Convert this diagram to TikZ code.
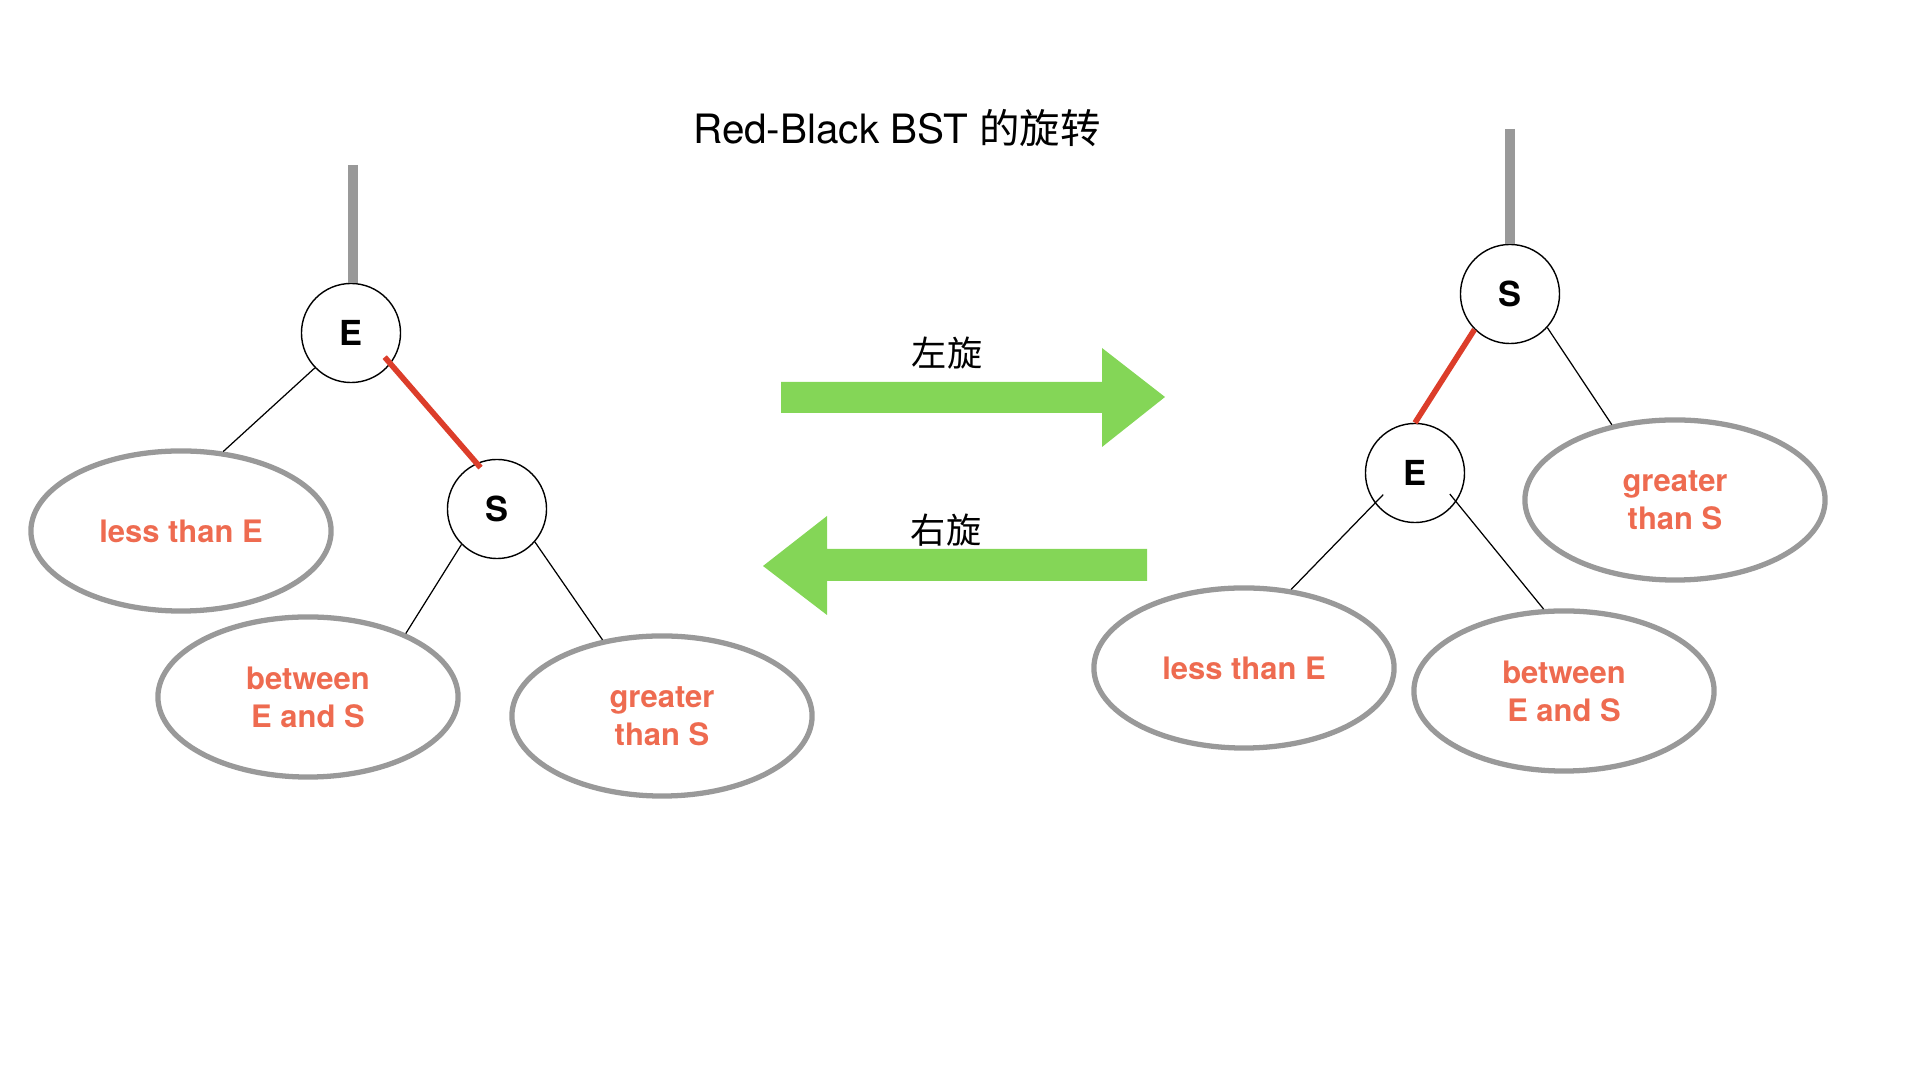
\documentclass[tikz,border=0pt]{standalone}
\usepackage{fontspec}
\setmainfont{TeX Gyre Heros}
\newfontfamily\cjkfont{Noto Sans CJK SC}
\usetikzlibrary{positioning, shapes.geometric, calc}

\definecolor{linkgray}{HTML}{999999}
\definecolor{rbred}{HTML}{DC3D2A}
\definecolor{subtext}{HTML}{EE6B50}
\definecolor{turngreen}{HTML}{84D657}

\begin{document}
\begin{tikzpicture}[
    x=0.01cm, y=-0.01cm,
    % Styles
    key/.style={ % Tree node
        circle,
        draw,
        line width=0.4pt,
        minimum size=0.99cm,
        inner sep=0pt,
        font=\fontsize{9.8}{11}\selectfont\bfseries
    },
    subtree/.style={ % Subtree oval
        ellipse,
        draw=linkgray,
        line width=1.5pt,
        minimum width=3.0cm,
        minimum height=1.6cm,
        inner sep=0pt,
        align=center,
        text=subtext,
        font=\fontsize{8.8}{10.8}\selectfont\bfseries
    },
    link/.style={
        line width=0.35pt
    },
    rededge/.style={ % Red link
        draw=rbred,
        line width=1.6pt
    },
    parent/.style={ % Link to the parent
        draw=linkgray,
        line width=2.8pt
    },
    turn/.style={
        fill=turngreen
    },
    turnlabel/.style={
        font=\fontsize{10}{12}\selectfont\cjkfont
    }
]
    \useasboundingbox (0,0) rectangle (1920,1080);

    \node[font=\fontsize{11.5}{14}\selectfont] (title) at (897,128) {Red-Black BST {\cjkfont 的旋转}};

    % Left tree: E is the root
    \node[key] (EL) at (351,333) {E};
    \node[key] (SL) at (497,509) {S};
    \node[subtree] (lessL) at (181,531) {less than E};
    \node[subtree] (betwL) at (308,697) {between\\E and S};
    \node[subtree] (grtL) at (662,716) {greater\\than S};
    \coordinate (topL) at (353,165);

    \draw[parent] (topL) -- (topL |- EL.north);
    \draw[link] (EL.-136) -- (lessL.62);
    \draw[rededge, shorten <=-0.9mm, shorten >=-0.6mm] (EL.-38) -- (SL.114);
    \draw[link] (SL.-135) -- (betwL.33);
    \draw[link] (SL.-41) -- (grtL.128);

    % Rotation arrows
    \fill[turn] (781,382) -- (1102,382) -- (1102,348) -- (1165,397) -- (1102,447) -- (1102,413) -- (781,413) -- cycle;
    \fill[turn] (1147,549) -- (827,549) -- (827,516) -- (763,566) -- (827,615) -- (827,581) -- (1147,581) -- cycle;
    \node[turnlabel] (rotL) at (947,353) {左旋};
    \node[turnlabel] (rotR) at (946,530) {右旋};

    % Right tree: S is the root
    \node[key] (SR) at (1510,294) {S};
    \node[key] (ER) at (1415,473) {E};
    \node[subtree] (grtR) at (1675,500) {greater\\than S};
    \node[subtree] (lessR) at (1244,668) {less than E};
    \node[subtree] (betwR) at (1564,691) {between\\E and S};
    \coordinate (topR) at (1510,129);

    \draw[parent] (topR) -- (topR |- SR.north);
    \draw[rededge] (SR.-135) -- (ER.90);
    \draw[link] (SR.-42) -- (grtR.130);
    \draw[link, shorten <=-1.2mm] (ER.-143) -- (lessR.59);
    \draw[link, shorten <=-1mm] (ER.-35) -- (betwR.104);
\end{tikzpicture}
\end{document}
